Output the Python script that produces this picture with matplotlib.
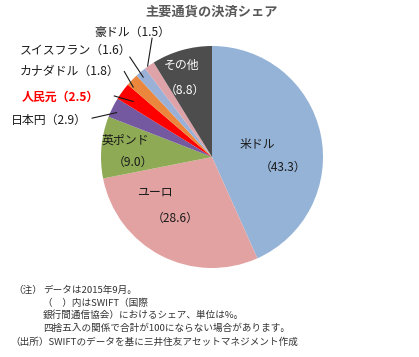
# -*- coding: utf-8 -*-
import numpy as np
import matplotlib
matplotlib.use('Agg')
import matplotlib.pyplot as plt

plt.rcParams['font.family'] = ['Noto Sans CJK JP', 'DejaVu Sans']

# data (Sep 2015, SWIFT share %)
currencies = ['米ドル', 'ユーロ', '英ポンド', '日本円', '人民元',
              'カナダドル', 'スイスフラン', '豪ドル', 'その他']
shares = [43.3, 28.6, 9.0, 2.9, 2.5, 1.8, 1.6, 1.5, 8.8]
colors = ['#95B3D7', '#E3A2A2', '#8EAA55', '#7559A0', '#FF0000',
          '#EA873C', '#9BB0D6', '#DDA3A8', '#4D4D4D']

W, H = 419, 357
fig = plt.figure(figsize=(W / 100, H / 100), dpi=100)
fig.patch.set_facecolor('white')

# pie center ~(212,157) px, radius ~111 px
cx, cy, r = 212, 157, 111
ax = fig.add_axes([(cx - r) / W, (H - cy - r) / H, 2 * r / W, 2 * r / H])
ax.pie(shares, colors=colors, startangle=90, counterclock=False,
       wedgeprops=dict(linewidth=0))
ax.set_xlim(-1, 1)
ax.set_ylim(-1, 1)
ax.set_aspect('equal')
ax.axis('off')

fs = 8.6
# labels inside the pie
inside = {
    '米ドル': ((0.41, 0.11), (0.64, -0.09), '#1a1a1a'),
    'ユーロ': ((-0.51, -0.32), (-0.33, -0.55), '#1a1a1a'),
    '英ポンド': ((-0.78, 0.15), (-0.71, -0.05), '#1a1a1a'),
    'その他': ((-0.27, 0.83), (-0.24, 0.60), 'white'),
}
for name, (p1, p2, c) in inside.items():
    v = shares[currencies.index(name)]
    ax.text(p1[0], p1[1], name, ha='center', va='center', fontsize=fs, color=c)
    ax.text(p2[0], p2[1], '（%.1f）' % v, ha='center', va='center', fontsize=fs, color=c)

# labels outside with leader lines
outside = {
    '豪ドル': ((-0.72, 1.12), (-0.54, 1.07), (-0.58, 0.82)),
    'スイスフラン': ((-1.23, 0.96), (-0.74, 0.90), (-0.62, 0.72)),
    'カナダドル': ((-1.28, 0.77), (-0.79, 0.77), (-0.71, 0.63)),
    '人民元': ((-1.37, 0.54), (-0.88, 0.55), (-0.71, 0.50)),
    '日本円': ((-1.47, 0.33), (-1.08, 0.35), (-0.86, 0.40)),
}
for name, (tp, l0, l1) in outside.items():
    v = shares[currencies.index(name)]
    red = name == '人民元'
    ax.text(tp[0], tp[1], '%s（%.1f）' % (name, v), ha='center', va='center',
            fontsize=fs, color='#FF0000' if red else '#1a1a1a',
            fontweight='bold' if red else 'normal')
    ax.plot([l0[0], l1[0]], [l0[1], l1[1]], color='#1a1a1a', lw=0.8,
            clip_on=False)

fig.text(212 / W, 1 - 12 / H, '主要通貨の決済シェア', ha='center', va='center',
         fontsize=9.5, fontweight='bold', color='#595959')

notes = [
    (13, 290, '（注）'),
    (43, 290, 'データは2015年9月。'),
    (43, 303, '（　）内はSWIFT（国際'),
    (43, 315, '銀行間通信協会）におけるシェア、単位は%。'),
    (43, 328, '四捨五入の関係で合計が100にならない場合があります。'),
    (10, 342, '（出所）SWIFTのデータを基に三井住友アセットマネジメント作成'),
]
for x, y, s in notes:
    fig.text(x / W, 1 - y / H, s, ha='left', va='center', fontsize=6.9,
             color='#333333')

fig.savefig('out.png', dpi=100, facecolor='white')
